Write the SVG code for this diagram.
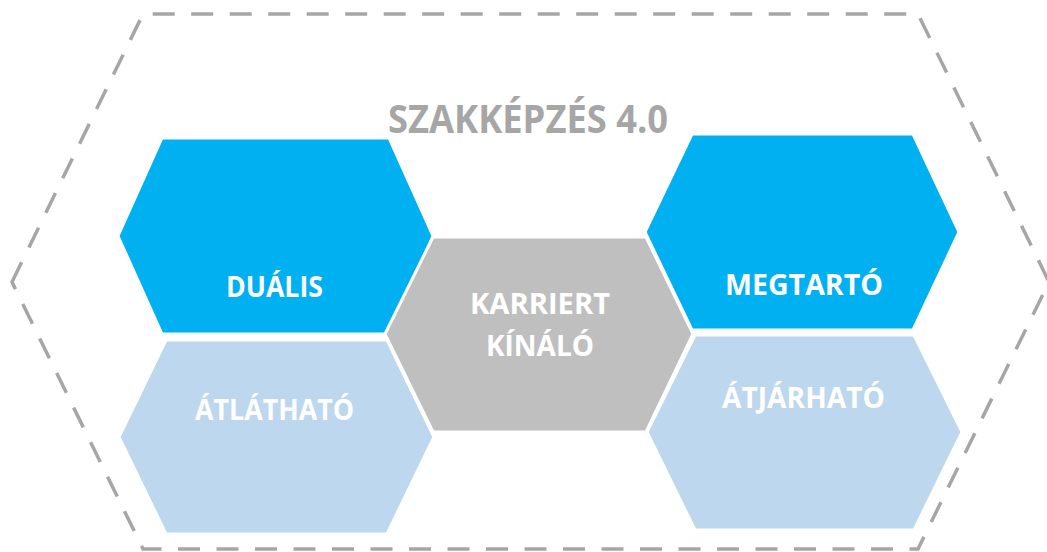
<svg xmlns="http://www.w3.org/2000/svg" width="1047" height="552" viewBox="0 0 1047 552">
<style>
.hex{stroke:#FFFFFF;stroke-width:3;stroke-linejoin:miter}
.dark{fill:#00B0F0}
.light{fill:#BDD7EE}
.grey{fill:#BFBFBF}
.lbl{font-family:"Open Sans","Liberation Sans",sans-serif;font-weight:bold;font-size:28px;fill:#FFFFFF;text-anchor:middle}
.title{font-family:"Open Sans","Liberation Sans",sans-serif;font-weight:bold;font-size:40px;fill:#A6A6A6;text-anchor:middle}
</style>
<rect width="1047" height="552" fill="#FFFFFF"/>
<g id="frame">
<polygon points="12,282 143,14 918,14 1049,282 918,549 143,549" fill="none" stroke="#A6A6A6" stroke-width="3.5" stroke-dasharray="22,16.5"/>
<text class="title" x="528" y="133" textLength="280" lengthAdjust="spacingAndGlyphs">SZAKKÉPZÉS 4.0</text>
</g>
<g id="connectors"></g>
<g id="node-dualis">
<polygon class="hex dark" points="118,236 162,138 389,138 433,236 389,334 162,334"/>
<text class="lbl" x="274.5" y="297" textLength="97" lengthAdjust="spacingAndGlyphs">DUÁLIS</text>
</g>
<g id="node-atlathato">
<polygon class="hex light" points="119,437 166,340 387,340 434,437 387,534 166,534"/>
<text class="lbl" x="274.5" y="420" textLength="159" lengthAdjust="spacingAndGlyphs">ÁTLÁTHATÓ</text>
</g>
<g id="node-megtarto">
<polygon class="hex dark" points="645,232 692,134 913,134 959,232 913,330 692,330"/>
<text class="lbl" x="804" y="295" textLength="158" lengthAdjust="spacingAndGlyphs">MEGTARTÓ</text>
</g>
<g id="node-atjarhato">
<polygon class="hex light" points="647,432 695,335 914,335 962,432 914,530 695,530"/>
<text class="lbl" x="803.5" y="408" textLength="163" lengthAdjust="spacingAndGlyphs">ÁTJÁRHATÓ</text>
</g>
<g id="node-karriert">
<polygon class="hex grey" points="385,334 433,237 646,237 693,334 646,432 433,432"/>
<text class="lbl" x="540" y="314" textLength="140" lengthAdjust="spacingAndGlyphs">KARRIERT</text>
<text class="lbl" x="540" y="356" textLength="108" lengthAdjust="spacingAndGlyphs">KÍNÁLÓ</text>
</g>
</svg>
